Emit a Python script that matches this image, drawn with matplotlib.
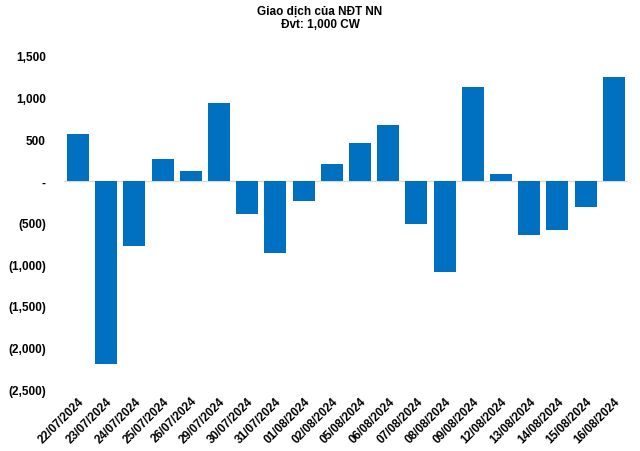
import matplotlib
matplotlib.use("Agg")
import matplotlib.pyplot as plt
from matplotlib.ticker import FuncFormatter

dates = ["22/07/2024", "23/07/2024", "24/07/2024", "25/07/2024", "26/07/2024",
         "29/07/2024", "30/07/2024", "31/07/2024", "01/08/2024", "02/08/2024",
         "05/08/2024", "06/08/2024", "07/08/2024", "08/08/2024", "09/08/2024",
         "12/08/2024", "13/08/2024", "14/08/2024", "15/08/2024", "16/08/2024"]
values = [568, -2201, -785, 268, 124, 940, -400, -869, -244, 208,
          460, 676, -521, -1097, 1132, 88, -653, -593, -317, 1252]
yticks = [1500, 1000, 500, 0, -500, -1000, -1500, -2000, -2500]

plt.rcParams['font.family'] = ['Liberation Sans', 'DejaVu Sans']

fig = plt.figure(figsize=(6.4, 4.52), dpi=100)
ax = fig.add_axes([0.1, 0.137, 0.881, 0.737])

x = list(range(len(dates)))
ax.bar(x, values, width=0.78, color="#0070C0", zorder=2)
ax.axhline(0, color="#d9d9d9", lw=1.0, zorder=1)

ax.set_xlim(-0.5, len(dates) - 0.5)
ax.set_ylim(-2500, 1500)
ax.set_yticks(yticks)

def fmt(v, pos):
    if v == 0:
        return "-"
    s = f"{abs(int(v)):,}"
    return f"({s})" if v < 0 else s

ax.yaxis.set_major_formatter(FuncFormatter(fmt))
ax.set_xticks(x)
ax.set_xticklabels(dates, rotation=45, ha='right', rotation_mode='anchor')

for s in ax.spines.values():
    s.set_visible(False)
ax.tick_params(axis='both', length=0, labelsize=8.5)
ax.tick_params(axis='y', pad=13)
ax.tick_params(axis='x', pad=4)
for lbl in ax.get_xticklabels() + ax.get_yticklabels():
    lbl.set_fontweight('bold')

fig.text(0.5, 0.988, "Giao dịch của NĐT NN\nĐvt: 1,000 CW", ha='center', va='top',
         fontsize=8.5, fontweight='bold', linespacing=1.15)

fig.savefig("out.png", dpi=100, facecolor="white")
